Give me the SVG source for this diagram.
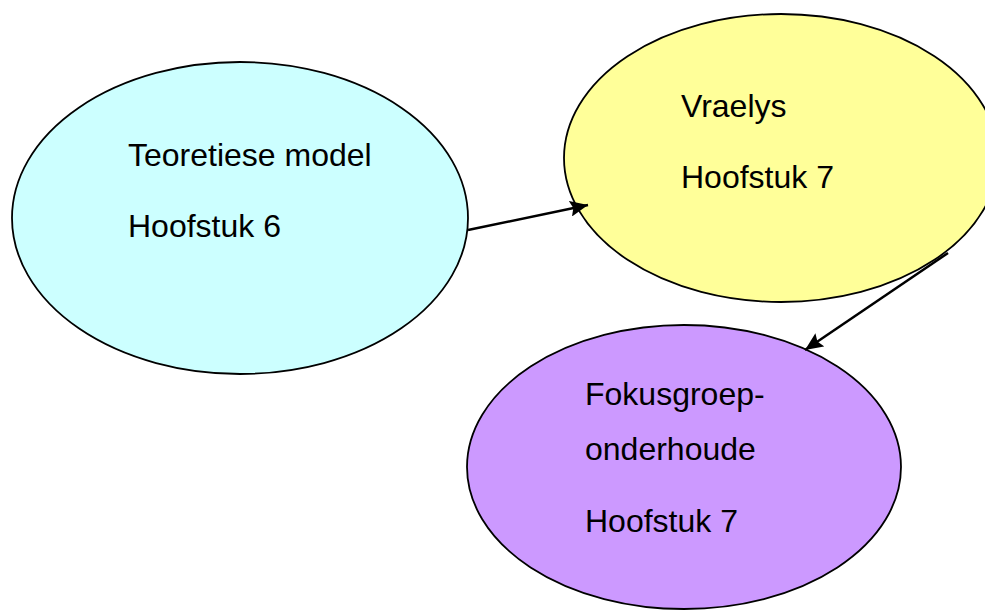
<svg xmlns="http://www.w3.org/2000/svg" width="985" height="610" viewBox="0 0 985 610">
<style>
.node ellipse{stroke:#000;stroke-width:1.8}
.lbl{font-family:"Liberation Sans",Arial,sans-serif;font-size:32px;fill:#000}
.conn line{stroke:#000;stroke-width:2.5}
</style>
<defs>
<marker id="ah" markerUnits="userSpaceOnUse" markerWidth="20" markerHeight="16" refX="18" refY="8" orient="auto">
<path d="M0,0 L18,8 L0,16 L3,8 Z" fill="#000"/>
</marker>
</defs>
<rect width="985" height="610" fill="#fff"/>
<g id="n1" class="node">
<ellipse cx="240" cy="218" rx="228" ry="156" fill="#CCFFFF"/>
<text class="lbl" x="128" y="166">Teoretiese model</text>
<text class="lbl" x="128" y="237">Hoofstuk 6</text>
</g>
<g id="n2" class="node">
<ellipse cx="781" cy="158" rx="217" ry="144" fill="#FFFF99"/>
<text class="lbl" x="681" y="117">Vraelys</text>
<text class="lbl" x="681" y="188">Hoofstuk 7</text>
</g>
<g id="n3" class="node">
<ellipse cx="684" cy="467" rx="217" ry="142" fill="#CC99FF"/>
<text class="lbl" x="585" y="405">Fokusgroep-</text>
<text class="lbl" x="585" y="460">onderhoude</text>
<text class="lbl" x="585" y="532">Hoofstuk 7</text>
</g>
<g id="connectors" class="conn">
<line x1="468" y1="230" x2="588" y2="205" marker-end="url(#ah)"/>
<line x1="948" y1="253" x2="805" y2="350" marker-end="url(#ah)"/>
</g>
</svg>
